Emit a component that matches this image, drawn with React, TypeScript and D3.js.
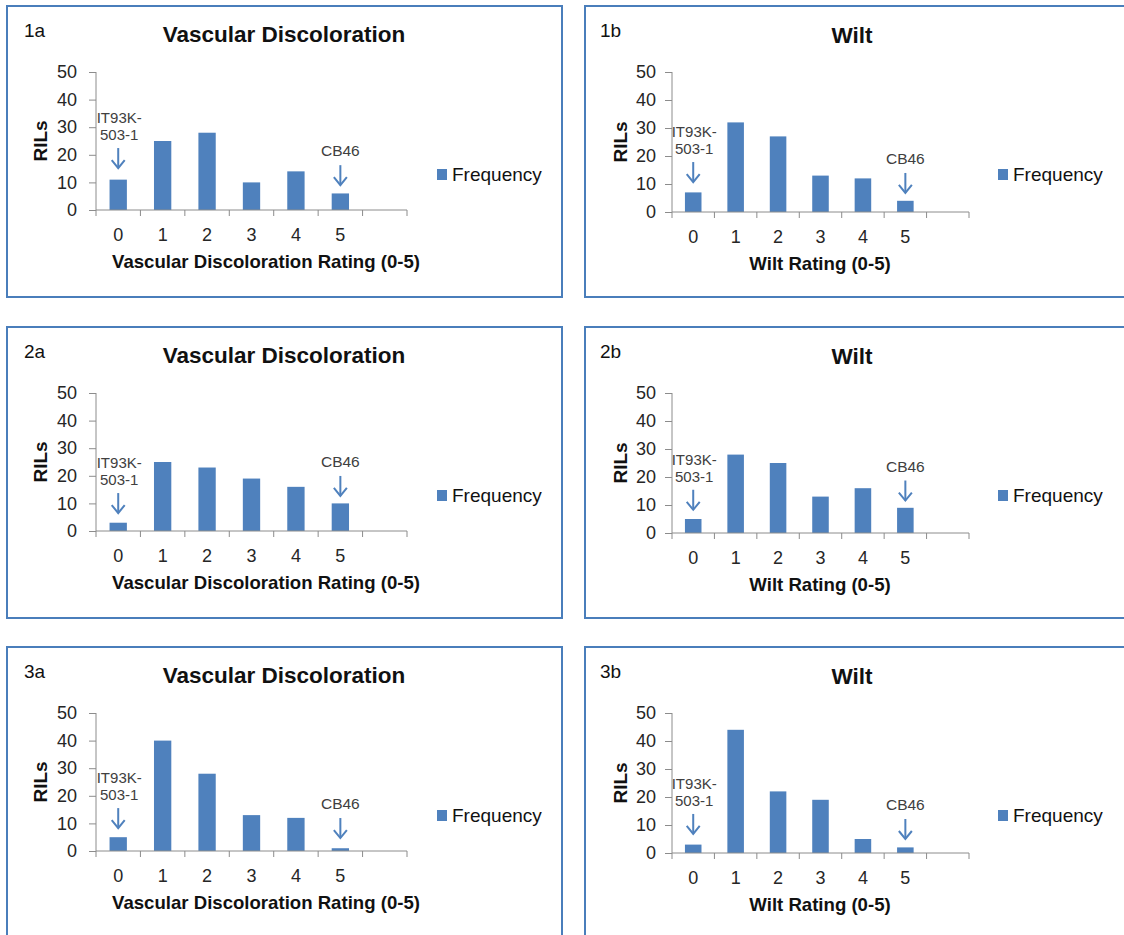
import { useRef, useEffect } from "react";
import * as d3 from "d3";

// ── Data ──────────────────────────────────────────────────────────────────────

const CATEGORIES = ["0", "1", "2", "3", "4", "5", ""];
const Y_TICKS = [0, 10, 20, 30, 40, 50];

const PANEL_IDS = ["1a", "1b", "2a", "2b", "3a", "3b"];
const PANEL_TITLES = ["Vascular Discoloration", "Wilt", "Vascular Discoloration", "Wilt", "Vascular Discoloration", "Wilt"];
const X_TITLES = [
  "Vascular Discoloration Rating (0-5)",
  "Wilt Rating (0-5)",
  "Vascular Discoloration Rating (0-5)",
  "Wilt Rating (0-5)",
  "Vascular Discoloration Rating (0-5)",
  "Wilt Rating (0-5)",
];

const FREQ_1A = [11, 25, 28, 10, 14, 6];
const FREQ_1B = [7, 32, 27, 13, 12, 4];
const FREQ_2A = [3, 25, 23, 19, 16, 10];
const FREQ_2B = [5, 28, 25, 13, 16, 9];
const FREQ_3A = [5, 40, 28, 13, 12, 1];
const FREQ_3B = [3, 44, 22, 19, 5, 2];
const FREQUENCIES = [FREQ_1A, FREQ_1B, FREQ_2A, FREQ_2B, FREQ_3A, FREQ_3B];

// arrow tips, in RILs units
const IT_ARROW_TIP = [15.2, 10.7, 6.5, 8.3, 8.3, 6.8];
const CB_ARROW_TIP = [9, 6.8, 12.7, 11.6, 4.7, 5];

const SERIES_NAME = "Frequency";

// ── Layout ────────────────────────────────────────────────────────────────────

const W = 1124;
const H = 935;
const COL_X = [7, 585];
const ROW_Y = [6, 327, 647];
const FONT = "'Liberation Sans', Arial, sans-serif";
const BLUE = "#4f81bd";
const FRAME = "#4a7ebb";
const TEXT = "#262626";

const SIDE = [
  { plotL: 89, plotR: 400, y50: 66, y0: 204, idX: 17, titleX: 277, xTitleX: 259, rilsX: 40, tickR: 70, legendX: 430 },
  { plotL: 87, plotR: 384, y50: 66, y0: 206, idX: 15, titleX: 267, xTitleX: 235, rilsX: 42, tickR: 71, legendX: 413 },
];

function drawPanel(root: d3.Selection<SVGSVGElement, unknown, null, undefined>, i: number) {
  const col = i % 2;
  const row = Math.floor(i / 2);
  const L = COL_X[col];
  const T = ROW_Y[row];
  const s = SIDE[col];

  // Frame
  root
    .append("rect")
    .attr("x", L)
    .attr("y", T)
    .attr("width", col === 0 ? 555 : W - L + 10)
    .attr("height", row === 2 ? H - T + 10 : 291)
    .attr("fill", "#fff")
    .attr("stroke", FRAME)
    .attr("stroke-width", 2);

  const g = root.append("g").attr("transform", `translate(${L},${T})`);

  const x = d3.scaleBand().domain(CATEGORIES).range([s.plotL, s.plotR]).paddingInner(0).paddingOuter(0);
  const y = d3.scaleLinear().domain([0, 50]).range([s.y0, s.y50]);

  // Panel id + title
  g.append("text")
    .attr("x", s.idX)
    .attr("y", 31)
    .attr("font-size", 19)
    .attr("font-family", FONT)
    .attr("fill", "#111")
    .text(PANEL_IDS[i]);

  g.append("text")
    .attr("x", s.titleX)
    .attr("y", col === 0 ? 36 : 37)
    .attr("text-anchor", "middle")
    .attr("font-size", 22.5)
    .attr("font-weight", "bold")
    .attr("font-family", FONT)
    .attr("fill", "#111")
    .text(PANEL_TITLES[i]);

  // Bars
  const bw = x.bandwidth() * 0.39;
  FREQUENCIES[i].forEach((v, k) => {
    const cx = (x(CATEGORIES[k]) ?? 0) + x.bandwidth() / 2;
    g.append("rect")
      .attr("x", cx - bw / 2)
      .attr("y", y(v))
      .attr("width", bw)
      .attr("height", y(0) - y(v))
      .attr("fill", BLUE);
  });

  // Y axis
  g.append("g")
    .attr("transform", `translate(${s.plotL},0)`)
    .call(d3.axisLeft(y).tickValues(Y_TICKS).tickSize(7).tickPadding(s.plotL - s.tickR - 7))
    .call((ax) => ax.selectAll("line,path").attr("stroke", "#8c8c8c"))
    .call((ax) => ax.select(".domain").attr("d", `M0,${y(0)}V${y(50)}`))
    .selectAll("text")
    .attr("fill", TEXT)
    .attr("font-size", 18)
    .attr("font-family", FONT);

  // X axis: line + boundary ticks + labels
  const xa = g.append("g").attr("stroke", "#8c8c8c");
  xa.append("line").attr("x1", s.plotL).attr("x2", s.plotR).attr("y1", y(0)).attr("y2", y(0));
  CATEGORIES.concat(["end"]).forEach((c, k) => {
    const bx = k < CATEGORIES.length ? x(c) ?? 0 : s.plotR;
    xa.append("line").attr("x1", bx).attr("x2", bx).attr("y1", y(0)).attr("y2", y(0) + 6);
  });
  CATEGORIES.forEach((c) => {
    g.append("text")
      .attr("x", (x(c) ?? 0) + x.bandwidth() / 2)
      .attr("y", y(0) + 31)
      .attr("text-anchor", "middle")
      .attr("font-size", 18)
      .attr("font-family", FONT)
      .attr("fill", TEXT)
      .text(c);
  });

  // Axis titles
  g.append("text")
    .attr("x", s.xTitleX)
    .attr("y", y(0) + 58)
    .attr("text-anchor", "middle")
    .attr("font-size", 18.6)
    .attr("font-weight", "bold")
    .attr("font-family", FONT)
    .attr("fill", "#111")
    .text(X_TITLES[i]);

  g.append("text")
    .attr("transform", `translate(${s.rilsX},${(y(0) + y(50)) / 2}) rotate(-90)`)
    .attr("text-anchor", "middle")
    .attr("font-size", 19)
    .attr("font-weight", "bold")
    .attr("font-family", FONT)
    .attr("fill", "#111")
    .text("RILs");

  // Legend
  g.append("rect").attr("x", s.legendX).attr("y", 163).attr("width", 10).attr("height", 11).attr("fill", BLUE);
  g.append("text")
    .attr("x", s.legendX + 15)
    .attr("y", 175)
    .attr("font-size", 19)
    .attr("font-family", FONT)
    .attr("fill", "#111")
    .text(SERIES_NAME);

  // Parent annotations with arrows
  const arrow = (cx: number, tip: number) => {
    const ty = y(tip);
    const top = ty - 20;
    const a = g.append("g").attr("stroke", BLUE).attr("stroke-width", 2).attr("fill", "none");
    a.append("line").attr("x1", cx).attr("x2", cx).attr("y1", top).attr("y2", ty);
    a.append("path").attr("d", `M${cx - 6.5},${ty - 8}L${cx},${ty}L${cx + 6.5},${ty - 8}`);
    return top;
  };

  const c0 = (x("0") ?? 0) + x.bandwidth() / 2;
  const itTop = arrow(c0, IT_ARROW_TIP[i]);
  [
    ["IT93K-", itTop - 25],
    ["503-1", itTop - 8],
  ].forEach(([t, yy]) => {
    g.append("text")
      .attr("x", c0 + 1)
      .attr("y", yy as number)
      .attr("text-anchor", "middle")
      .attr("font-size", 15)
      .attr("font-family", FONT)
      .attr("fill", "#404040")
      .text(t as string);
  });

  const c5 = (x("5") ?? 0) + x.bandwidth() / 2;
  const cbTop = arrow(c5, CB_ARROW_TIP[i]);
  g.append("text")
    .attr("x", c5)
    .attr("y", cbTop - 9)
    .attr("text-anchor", "middle")
    .attr("font-size", 15.5)
    .attr("font-family", FONT)
    .attr("fill", "#404040")
    .text("CB46");
}

// ── Component ─────────────────────────────────────────────────────────────────

export default function App() {
  const svgRef = useRef<SVGSVGElement>(null);

  useEffect(() => {
    if (!svgRef.current) return;
    const root = d3.select(svgRef.current);
    root.selectAll("*").remove();
    root.append("rect").attr("width", W).attr("height", H).attr("fill", "#fff");
    PANEL_IDS.forEach((_, i) => drawPanel(root, i));
  }, []);

  return (
    <svg
      ref={svgRef}
      width={W}
      height={H}
      viewBox={`0 0 ${W} ${H}`}
      style={{ position: "absolute", left: 0, top: 0, display: "block" }}
    />
  );
}
